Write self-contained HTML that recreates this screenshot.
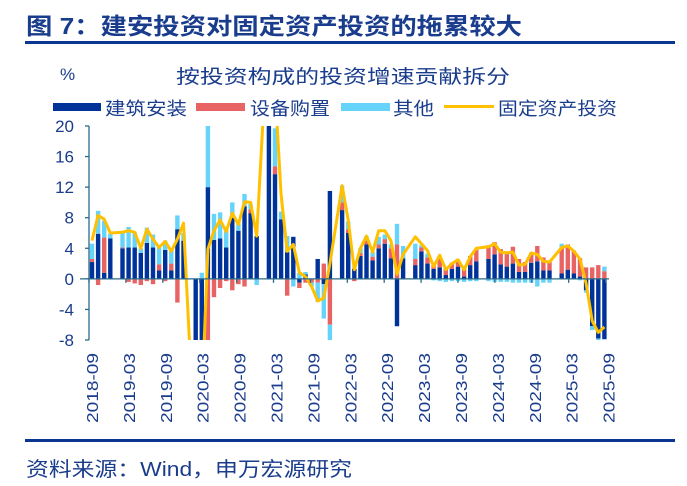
<!DOCTYPE html>
<html><head><meta charset="utf-8"><style>
html,body{margin:0;padding:0;background:#fff;}
svg{display:block;font-family:"Liberation Sans","Noto Sans CJK SC",sans-serif;}
</style></head><body>
<svg id="s" width="687" height="486" viewBox="0 0 687 486" xmlns="http://www.w3.org/2000/svg">
<text x="26" y="34" font-size="23" font-weight="bold" fill="#1a3c8c" textLength="496" lengthAdjust="spacingAndGlyphs">图 7：建安投资对固定资产投资的拖累较大</text>
<rect x="25" y="41" width="650" height="3" fill="#0a3590"/>
<text x="60" y="80" font-size="17" fill="#1a3c8c">%</text>
<text x="176" y="83" font-size="19" fill="#1a3c8c" textLength="334" lengthAdjust="spacingAndGlyphs">按投资构成的投资增速贡献拆分</text>
<rect x="53" y="103" width="48" height="8" fill="#003399"/>
<text x="105" y="115" font-size="18" fill="#1a3c8c" textLength="82" lengthAdjust="spacingAndGlyphs">建筑安装</text>
<rect x="196" y="103" width="49" height="8" fill="#e86464"/>
<text x="250" y="115" font-size="18" fill="#1a3c8c" textLength="80" lengthAdjust="spacingAndGlyphs">设备购置</text>
<rect x="341" y="103" width="49" height="8" fill="#66d4fa"/>
<text x="393" y="115" font-size="18" fill="#1a3c8c" textLength="41" lengthAdjust="spacingAndGlyphs">其他</text>
<rect x="444" y="105" width="50" height="3" fill="#ffc000"/>
<text x="498" y="115" font-size="18" fill="#1a3c8c" textLength="119" lengthAdjust="spacingAndGlyphs">固定资产投资</text>
<g id="plot"></g>
<rect x="25" y="439" width="650" height="3" fill="#0a3590"/>
<text x="26" y="476" font-size="20" fill="#1a3c8c" textLength="326" lengthAdjust="spacingAndGlyphs">资料来源：Wind，申万宏源研究</text>
</svg>
<script>
var Y0=126,PU=214/28;function Y(v){return Y0+(20-v)*PU;}
var ZERO=Y(0);
// [con, eq, oth] per month from 2018-09; null = Jan
var B=[[2.2,0.4,2],[5.9,-0.8,3],[0.8,4.6,2.2],[5.3,0,0.6],null,
[4,0.1,2],[4.1,-0.4,2.7],[4.1,-0.6,2],[3.4,-0.8,0.6],[4.7,-0.3,2],[4.1,-0.7,1.7],[1.1,0.8,2.4],[3.8,-0.3,1.2],[1.1,0.9,1.8],[6.5,-3.1,1.8],[5,0,1],null,
[-24,0,0],[-12,-3,0.8],[12,-10,8],[5.1,-2.4,3.4],[5.3,-1.2,3.4],[4.1,-0.3,2.4],[8,-1.5,2],[6.3,-0.7,1],[9.5,-1,1.6],[8.6,0.5,0.7],[5.6,0,-0.8],null,
[35,2,5],[13.7,1,5],[7.8,0,1],[3.5,-2.2,2.1],[5.5,0,-1],[-0.5,-0.7,0.8],[0.6,-0.5,0.3],[0,-0.5,-0.5],[2.6,-0.5,-2.5],[-0.7,2,-4.5],[11.5,-6,-2],null,
[9,1,2.2],[6,0.5,1],[1.3,-0.3,0.2],[3,0.4,0.6],[4.5,0.5,0.6],[2.4,0.5,0.6],[4,0.5,1],[4.6,0.6,0.6],[2.7,1.3,0.5],[-6.2,4.5,2.7],[2.7,0,1.6],null,
[1.8,0.8,2],[3.6,0.5,0.3],[2,0.8,0.5],[1.3,0.5,-0.2],[1.5,1.2,-0.3],[0.5,0.9,-0.4],[1.3,0.8,-0.3],[1.6,0.9,-0.3],[0.3,1,-0.4],[1.8,1.2,-0.3],[2.3,1.5,-0.3],null,
[2.6,1.8,-0.3],[3.2,1.6,-0.4],[1.9,2,-0.4],[1.6,2,-0.4],[2,2.2,-0.5],[0.9,1.7,-0.5],[0.9,1.3,-0.5],[2.1,1.3,-0.5],[2.3,2,-1],[1.1,1.7,-0.5],[1.1,1.1,-0.5],null,
[0.7,3.4,0.5],[1.2,3.3,0],[0.7,3,0],[0.3,2.4,-0.2],[-1.5,1.5,-0.3],[-6.2,1.5,-0.5],[-7.8,1.8,-0.4],[-7.9,1,0.6]];
var L=[5,8.3,7.8,6,null,6.1,6.3,6.1,4,6.5,5.2,4.1,4.9,3.6,5.2,7.3,null,-24.5,-16,3.9,6.3,7.7,6.2,8.6,7.1,10.1,10,5.6,null,35,25,11,3.6,4.5,0.8,0.3,-1,-2.9,-2.5,2,null,
12.2,7.7,1.2,4,5.6,3.5,6.3,6.3,5,0.6,3.2,null,5.5,4.6,3.7,1.6,3.1,1.2,2,2.5,1.2,2.9,4,null,4.2,4.6,3.5,3.4,3.5,1.8,1.9,3.4,3.2,2.3,2.2,null,4.1,4.3,3.6,2.6,-0.6,-5.5,-7,-6.3];
function X(i){return 92+i*6.1;}
var h='<defs><clipPath id="c"><rect x="80" y="'+Y0+'" width="560" height="'+(Y(-8)-Y0)+'"/></clipPath></defs><g clip-path="url(#c)">';
var cols=['#003399','#e86464','#66d4fa'];
for(var i=0;i<B.length;i++){var b=B[i];if(!b)continue;var p=0,n=0,x=X(i)-2.2;
for(var k=0;k<3;k++){var v=b[k];if(v>=0){h+='<rect x="'+x+'" y="'+Y(p+v)+'" width="4.4" height="'+(v*PU)+'" fill="'+cols[k]+'"/>';p+=v;}else{h+='<rect x="'+x+'" y="'+Y(n)+'" width="4.4" height="'+(-v*PU)+'" fill="'+cols[k]+'"/>';n+=v;}}}
var pts=[];for(var i=0;i<L.length;i++){if(L[i]===null)continue;pts.push(X(i).toFixed(1)+','+Y(L[i]).toFixed(1));}
h+='<polyline points="'+pts.join(' ')+'" fill="none" stroke="#ffc000" stroke-width="3" stroke-linejoin="round"/></g>';
h+='<line x1="80" y1="'+ZERO+'" x2="609" y2="'+ZERO+'" stroke="#2a6a8a" stroke-width="1.3"/>';
h+='<line x1="89" y1="'+Y0+'" x2="89" y2="'+Y(-8)+'" stroke="#2a6a8a" stroke-width="1.3"/>';
for(var v=-8;v<=20;v+=4){h+='<line x1="85" y1="'+Y(v)+'" x2="89" y2="'+Y(v)+'" stroke="#2a6a8a" stroke-width="1.3"/>';
h+='<text x="74" y="'+(Y(v)+6)+'" font-size="17" fill="#1a3c8c" text-anchor="end">'+v+'</text>';}
var labs=['2018-09','2019-03','2019-09','2020-03','2020-09','2021-03','2021-09','2022-03','2022-09','2023-03','2023-09','2024-03','2024-09','2025-03','2025-09'];
for(var k=0;k<15;k++){var tx=89+k*36.9;h+='<line x1="'+tx+'" y1="'+ZERO+'" x2="'+tx+'" y2="'+(ZERO+4)+'" stroke="#2a6a8a" stroke-width="1.3"/>';
var lx=tx+3+6;h+='<text transform="translate('+lx+',423) rotate(-90)" font-size="16" fill="#1a3c8c" textLength="70" lengthAdjust="spacingAndGlyphs">'+labs[k]+'</text>';}
document.getElementById('plot').innerHTML=h;
</script>
</body></html>
